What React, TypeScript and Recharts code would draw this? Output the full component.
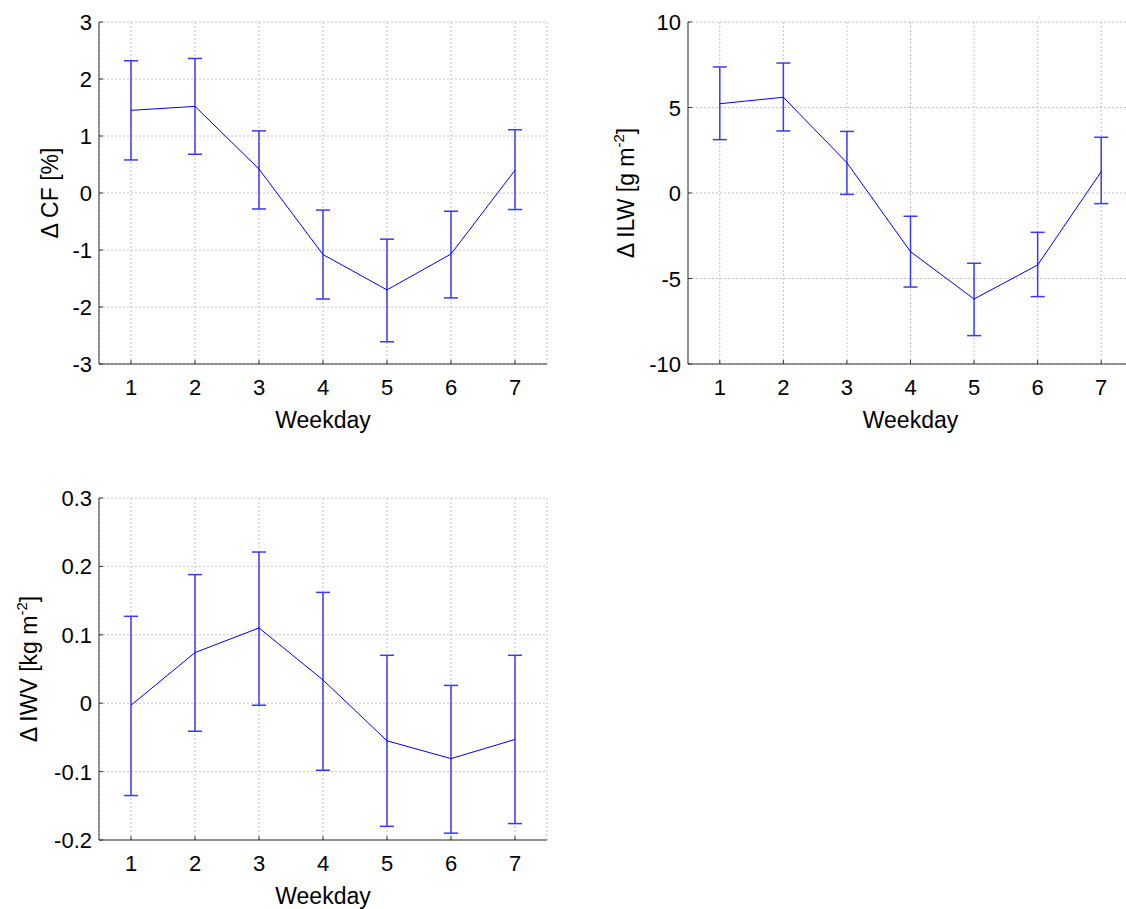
import React from 'react';
import { LineChart, Line, XAxis, YAxis, CartesianGrid, ErrorBar } from 'recharts';

const weekdays = [1, 2, 3, 4, 5, 6, 7];

const cfMean = [1.45, 1.52, 0.42, -1.08, -1.7, -1.07, 0.4];
const cfLow = [0.58, 0.68, -0.28, -1.86, -2.61, -1.84, -0.29];
const cfHigh = [2.32, 2.36, 1.09, -0.3, -0.81, -0.32, 1.11];
const cfTicks = [-3, -2, -1, 0, 1, 2, 3];

const ilwMean = [5.22, 5.6, 1.77, -3.43, -6.2, -4.21, 1.25];
const ilwLow = [3.12, 3.63, -0.08, -5.5, -8.34, -6.06, -0.62];
const ilwHigh = [7.37, 7.6, 3.6, -1.36, -4.11, -2.3, 3.26];
const ilwTicks = [-10, -5, 0, 5, 10];

const iwvMean = [-0.003, 0.074, 0.11, 0.034, -0.055, -0.081, -0.053];
const iwvLow = [-0.135, -0.041, -0.003, -0.098, -0.18, -0.19, -0.176];
const iwvHigh = [0.127, 0.188, 0.221, 0.162, 0.07, 0.026, 0.07];
const iwvTicks = [-0.2, -0.1, 0, 0.1, 0.2, 0.3];

const FONT = '"Liberation Sans", Arial, Helvetica, sans-serif';
const AXIS = '#333333';

type PanelProps = {
  left: number;
  top: number;
  width: number;
  marginRight: number;
  mean: number[];
  low: number[];
  high: number[];
  domain: [number, number];
  ticks: number[];
  labelMain: string;
  labelSup?: string;
  labelX: number;
};

function XTick(props: any) {
  const { x, y, payload } = props;
  return (
    <text x={x} y={y + 31} textAnchor="middle" fontFamily={FONT} fontSize={22} fill="#000">
      {payload.value}
    </text>
  );
}

function YTick(props: any) {
  const { x, y, payload } = props;
  return (
    <text x={x} y={y + 8} textAnchor="end" fontFamily={FONT} fontSize={22} fill="#000">
      {payload.value}
    </text>
  );
}

function Panel(p: PanelProps) {
  const data = weekdays.map((d, i) => ({
    day: d,
    v: p.mean[i],
    err: [p.mean[i] - p.low[i], p.high[i] - p.mean[i]],
  }));

  const xLabel = (props: any) => {
    const vb = props.viewBox || {};
    return (
      <text
        x={vb.x + vb.width / 2}
        y={vb.y + 64}
        textAnchor="middle"
        fontFamily={FONT}
        fontSize={23}
        fill="#000"
      >
        Weekday
      </text>
    );
  };

  const yLabel = (props: any) => {
    const vb = props.viewBox || {};
    const cx = p.labelX;
    const cy = vb.y + vb.height / 2;
    return (
      <text
        x={cx}
        y={cy}
        transform={`rotate(-90, ${cx}, ${cy})`}
        textAnchor="middle"
        dominantBaseline="central"
        fontFamily={FONT}
        fontSize={23}
        fill="#000"
      >
        {p.labelMain}
        {p.labelSup ? (
          <>
            <tspan dy={-8} fontSize={15}>{p.labelSup}</tspan>
            <tspan dy={8}>]</tspan>
          </>
        ) : null}
      </text>
    );
  };

  return (
    <div style={{ position: 'absolute', left: p.left, top: p.top }}>
      <LineChart
        width={p.width}
        height={450}
        data={data}
        margin={{ top: 22, right: p.marginRight, bottom: 36, left: 0 }}
      >
        <CartesianGrid stroke="#c4c4c4" strokeDasharray="2 2" />
        <XAxis
          dataKey="day"
          type="number"
          domain={[0.5, 7.5]}
          ticks={weekdays}
          allowDataOverflow
          tickSize={-4}
          tickMargin={4}
          height={50}
          stroke={AXIS}
          tick={<XTick />}
          label={xLabel}
        />
        <XAxis
          xAxisId="top"
          orientation="top"
          dataKey="day"
          type="number"
          domain={[0.5, 7.5]}
          ticks={weekdays}
          allowDataOverflow
          tickSize={-4}
          height={0}
          stroke={AXIS}
          tickFormatter={() => ''}
        />
        <YAxis
          type="number"
          domain={p.domain}
          ticks={p.ticks}
          allowDataOverflow
          tickSize={-4}
          tickMargin={11}
          width={99}
          stroke={AXIS}
          tick={<YTick />}
          label={yLabel}
        />
        <YAxis
          yAxisId="right"
          orientation="right"
          type="number"
          domain={p.domain}
          ticks={p.ticks}
          allowDataOverflow
          tickSize={-4}
          width={0}
          stroke={AXIS}
          tickFormatter={() => ''}
        />
        <Line
          dataKey="v"
          stroke="#0000ff"
          strokeWidth={1}
          dot={false}
          isAnimationActive={false}
        >
          <ErrorBar
            dataKey="err"
            width={7}
            stroke="#3a3aff"
            strokeWidth={1.5}
            direction="y"
            isAnimationActive={false}
          />
        </Line>
      </LineChart>
    </div>
  );
}

export default function App() {
  return (
    <div
      style={{
        position: 'absolute',
        left: 0,
        top: 0,
        width: 1126,
        height: 909,
        overflow: 'hidden',
        background: '#fff',
      }}
    >
      <Panel
        left={0}
        top={0}
        width={560}
        marginRight={13}
        mean={cfMean}
        low={cfLow}
        high={cfHigh}
        domain={[-3, 3]}
        ticks={cfTicks}
        labelMain="Δ CF [%]"
        labelX={50}
      />
      <Panel
        left={589}
        top={0}
        width={560}
        marginRight={16}
        mean={ilwMean}
        low={ilwLow}
        high={ilwHigh}
        domain={[-10, 10]}
        ticks={ilwTicks}
        labelMain="Δ ILW [g m"
        labelSup="-2"
        labelX={37}
      />
      <Panel
        left={0}
        top={476}
        width={560}
        marginRight={13}
        mean={iwvMean}
        low={iwvLow}
        high={iwvHigh}
        domain={[-0.2, 0.3]}
        ticks={iwvTicks}
        labelMain="Δ IWV [kg m"
        labelSup="-2"
        labelX={29}
      />
    </div>
  );
}
